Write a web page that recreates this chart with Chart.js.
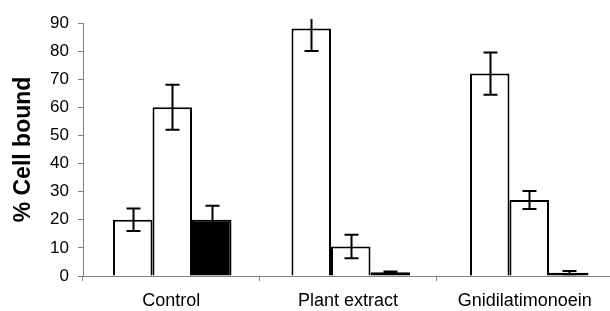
<!DOCTYPE html>
<html>
<head>
<meta charset="utf-8">
<script src="https://cdn.jsdelivr.net/npm/chart.js@4"></script>
<style>
  html, body { margin: 0; padding: 0; background: #fff; }
  #wrap { width: 610px; height: 311px; position: relative; }
</style>
</head>
<body>
<div id="wrap"><canvas id="c"></canvas></div>
<script>
const categories = ["Control", "Plant extract", "Gnidilatimonoein"];
const series1 = [20, 88, 72];
const series1Err = [4, 8, 7.5];
const series2 = [60, 10.5, 27];
const series2Err = [8, 4.2, 3.2];
const series3 = [20, 1.3, 1.2];
const series3Err = [5, 0.3, 0.6];
const yTicks = [0, 10, 20, 30, 40, 50, 60, 70, 80, 90];

const widenX = {
  id: 'widenX',
  afterLayout(chart) {
    const left = chart.chartArea.left;
    const xb = chart.scales.xb;
    xb.left = left; xb.right = 618.5; xb.width = xb.right - xb.left;
    xb.configure();
    const x = chart.scales.x;
    x.right = 613; x.width = x.right - x.left;
    x.configure();
    chart.chartArea.right = 613;
    chart.chartArea.width = 613 - left;
  }
};

const errorBars = {
  id: 'errorBars',
  afterDatasetsDraw(chart) {
    const ctx = chart.ctx;
    const y = chart.scales.y;
    const area = chart.chartArea;
    ctx.save();
    ctx.beginPath();
    ctx.rect(area.left - 5, area.top - 4, area.right - area.left + 10, area.bottom - area.top + 4);
    ctx.clip();
    ctx.strokeStyle = '#000';
    ctx.lineWidth = 2;
    chart.data.datasets.forEach((ds, di) => {
      const meta = chart.getDatasetMeta(di);
      meta.data.forEach((bar, i) => {
        const v = ds.data[i], e = ds.errors[i];
        const x = Math.round(bar.x) + 0.5;
        const yHi = y.getPixelForValue(v + e);
        const yLo = y.getPixelForValue(v - e);
        const cw = 7;
        ctx.beginPath();
        ctx.moveTo(x, yHi); ctx.lineTo(x, yLo);
        ctx.moveTo(x - cw, yHi); ctx.lineTo(x + cw, yHi);
        ctx.moveTo(x - cw, yLo); ctx.lineTo(x + cw, yLo);
        ctx.stroke();
      });
    });
    ctx.restore();
  }
};

new Chart(document.getElementById('c'), {
  type: 'bar',
  data: {
    labels: categories,
    datasets: [
      { xAxisID: 'xb', data: series1, errors: series1Err, backgroundColor: '#fff', borderColor: '#000', borderWidth: 2 },
      { xAxisID: 'xb', data: series2, errors: series2Err, backgroundColor: '#fff', borderColor: '#000', borderWidth: 2 },
      { xAxisID: 'xb', data: series3, errors: series3Err, backgroundColor: '#000', borderColor: '#000', borderWidth: 2 }
    ]
  },
  options: {
    responsive: true,
    maintainAspectRatio: false,
    animation: false,
    devicePixelRatio: 1,
    layout: { padding: { top: 23, right: 0, left: 0, bottom: 0 } },
    plugins: { legend: { display: false }, tooltip: { enabled: false } },
    datasets: { bar: { categoryPercentage: 0.664, barPercentage: 1.0 } },
    scales: {
      xb: {
        type: 'category', position: 'bottom', display: false, offset: true,
        grid: { offset: true }
      },
      x: {
        type: 'category', position: 'bottom', offset: true,
        grid: { display: true, drawOnChartArea: false, drawTicks: true, tickLength: 5, color: '#808080', offset: true },
        border: { display: true, color: '#808080', width: 1 },
        ticks: { color: '#000', font: { family: 'Liberation Sans, Arial', size: 18 }, padding: 9, maxRotation: 0 },
        afterFit(s) { s.height = 35; }
      },
      y: {
        min: 0, max: 90,
        afterBuildTicks(s) { s.ticks = yTicks.map(v => ({ value: v })); },
        grid: { display: true, drawOnChartArea: false, drawTicks: true, tickLength: 5, color: '#808080' },
        border: { display: true, color: '#808080', width: 1 },
        ticks: { color: '#000', font: { family: 'Liberation Sans, Arial', size: 17 }, padding: 9 },
        title: { display: true, text: '% Cell bound', color: '#000', font: { family: 'Liberation Sans, Arial', size: 23, weight: 'bold' }, padding: { top: 10, bottom: 0 } },
        afterFit(s) { s.width = 83; }
      }
    }
  },
  plugins: [widenX, errorBars]
});
</script>
</body>
</html>
